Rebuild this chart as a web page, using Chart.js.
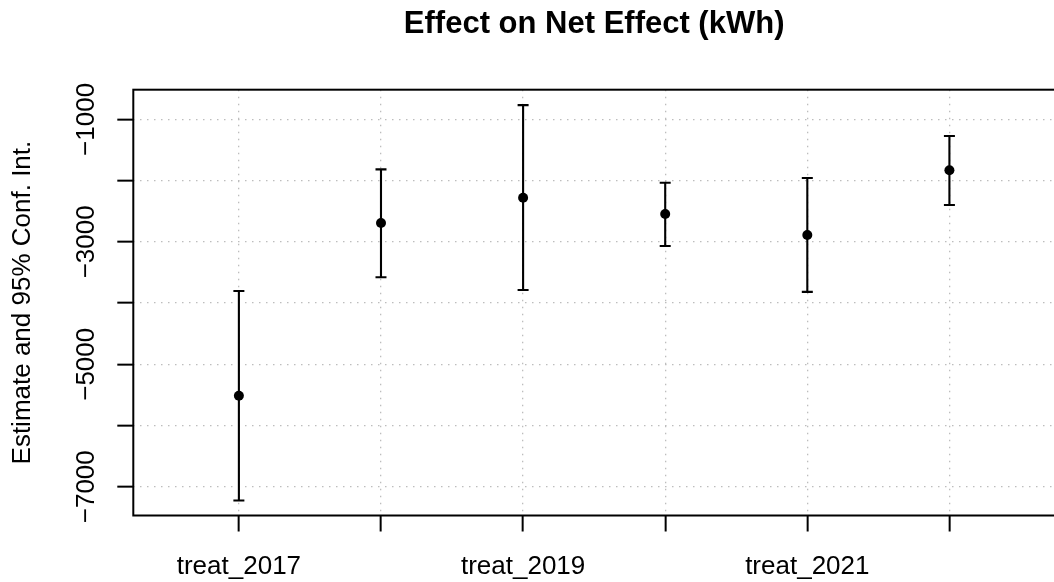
<!DOCTYPE html>
<html>
<head>
<meta charset="utf-8">
<title>Effect on Net Effect (kWh)</title>
<script src="https://cdn.jsdelivr.net/npm/chart.js@4"></script>
<style>
  html, body { margin: 0; padding: 0; background: #fff; overflow: hidden; }
  canvas { display: block; }
</style>
</head>
<body>
<canvas id="coefplot" width="1060" height="582"></canvas>
<script>
// Coefficients and 95% confidence intervals (kWh)
const categories = ['treat_2017', 'treat_2018', 'treat_2019', 'treat_2020', 'treat_2021', 'treat_2022'];
const estimates  = [-5515, -2692, -2279, -2545, -2888, -1832];
const ciLower    = [-7224, -3578, -3786, -3067, -3818, -2398];
const ciUpper    = [-3802, -1816,  -767, -2034, -1958, -1272];

// Axis ticks: every tick is marked, only alternate ones carry a label
const xTickLabels = ['treat_2017', '', 'treat_2019', '', 'treat_2021', ''];
const yTickValues = [-7000, -6000, -5000, -4000, -3000, -2000, -1000];
const yTickLabels = ['\u22127000', '', '\u22125000', '', '\u22123000', '', '\u22121000'];

const FONT = '"Liberation Sans", Arial, Helvetica, sans-serif';
const GRID = '#bdbdbd';
Chart.defaults.font.family = FONT;
Chart.defaults.color = '#000';

// Vertical interval lines with end caps
const errorBars = {
  id: 'errorBars',
  beforeDatasetsDraw(chart) {
    const { ctx, scales: { x, y } } = chart;
    const cap = 5.5;
    ctx.save();
    ctx.strokeStyle = '#000';
    ctx.lineWidth = 2.1;
    categories.forEach((name, i) => {
      const px = x.getPixelForValue(i + 1);
      const lo = y.getPixelForValue(ciLower[i]);
      const hi = y.getPixelForValue(ciUpper[i]);
      ctx.beginPath();
      ctx.moveTo(px, lo); ctx.lineTo(px, hi);
      ctx.moveTo(px - cap, lo); ctx.lineTo(px + cap, lo);
      ctx.moveTo(px - cap, hi); ctx.lineTo(px + cap, hi);
      ctx.stroke();
    });
    ctx.restore();
  }
};

// Frame around the plotting region
const plotBox = {
  id: 'plotBox',
  afterDraw(chart) {
    const { ctx, chartArea: a } = chart;
    ctx.save();
    ctx.strokeStyle = '#000';
    ctx.lineWidth = 2;
    ctx.strokeRect(a.left, a.top, a.right - a.left, a.bottom - a.top);
    ctx.restore();
  }
};

new Chart(document.getElementById('coefplot'), {
  type: 'scatter',
  data: {
    datasets: [{
      label: 'Estimate',
      data: estimates.map((v, i) => ({ x: i + 1, y: v })),
      pointRadius: 5,
      pointHoverRadius: 5,
      backgroundColor: '#000',
      borderWidth: 0
    }]
  },
  options: {
    responsive: false,
    animation: false,
    events: [],
    layout: { padding: { left: 0, right: 1.3, top: 0, bottom: 0 } },
    plugins: {
      legend: { display: false },
      tooltip: { enabled: false },
      title: {
        display: true,
        text: 'Effect on Net Effect (kWh)',
        fullSize: false,
        color: '#000',
        font: { size: 31, weight: 'bold' },
        padding: { top: 5.9, bottom: 46.6 }
      }
    },
    scales: {
      x: {
        type: 'linear',
        min: 0.257,
        max: 6.743,
        afterBuildTicks: s => { s.ticks = categories.map((c, i) => ({ value: i + 1 })); },
        afterFit: s => { s.height = 66.5; },
        ticks: {
          autoSkip: false,
          minRotation: 0,
          maxRotation: 0,
          padding: 20,
          font: { size: 26 },
          color: '#000',
          callback: v => xTickLabels[Math.round(v) - 1]
        },
        grid: {
          color: GRID,
          lineWidth: 1.3,
          tickLength: 16,
          tickWidth: 2,
          tickColor: '#000',
          tickBorderDash: []
        },
        border: { display: false, dash: [1.5, 5.5] }
      },
      y: {
        type: 'linear',
        min: -7470,
        max: -515,
        afterBuildTicks: s => { s.ticks = yTickValues.map(v => ({ value: v })); },
        afterFit: s => { s.width = 133.3; },
        ticks: {
          autoSkip: false,
          minRotation: 90,
          maxRotation: 90,
          crossAlign: 'center',
          padding: -6.5,
          font: { size: 26 },
          color: '#000',
          callback: v => yTickLabels[yTickValues.indexOf(v)]
        },
        grid: {
          color: GRID,
          lineWidth: 1.3,
          tickLength: 16,
          tickWidth: 2,
          tickColor: '#000',
          tickBorderDash: []
        },
        border: { display: false, dash: [1.5, 5.5] },
        title: {
          display: true,
          text: 'Estimate and 95% Conf. Int.',
          color: '#000',
          font: { size: 26 },
          padding: { top: 7, bottom: 0 }
        }
      }
    }
  },
  plugins: [errorBars, plotBox]
});
</script>
</body>
</html>
